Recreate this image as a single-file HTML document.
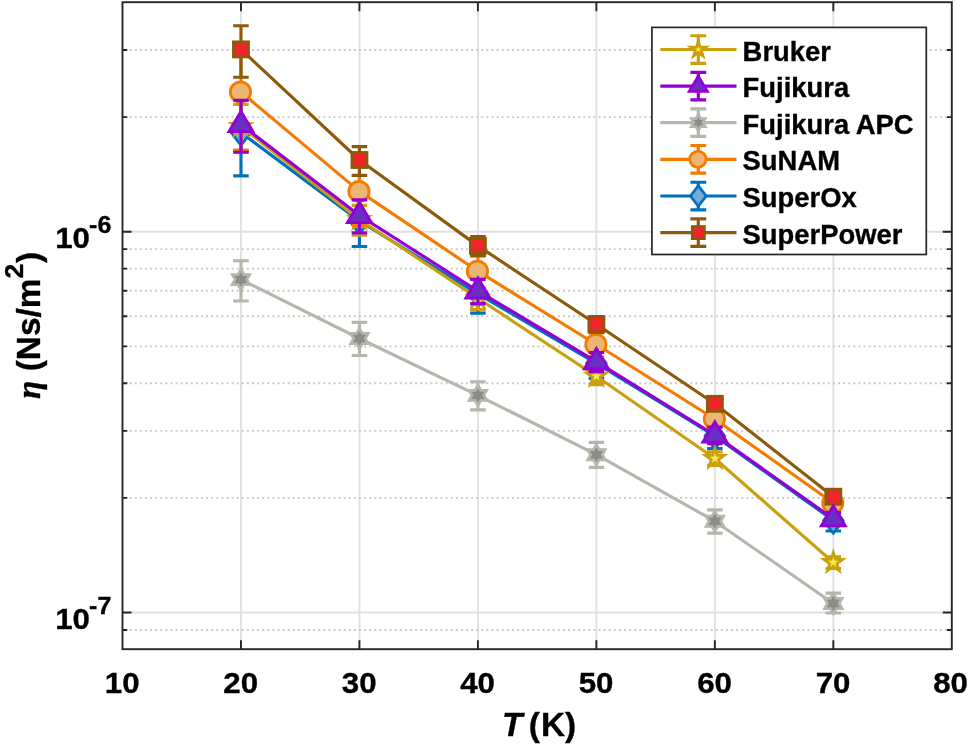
<!DOCTYPE html>
<html lang="en"><head><meta charset="utf-8"><title>Viscosity vs temperature</title>
<style>html,body{margin:0;padding:0;background:#fff}svg{display:block}</style></head>
<body>
<svg width="969" height="745" viewBox="0 0 969 745">
<rect width="969" height="745" fill="#fff"/>
<path d="M240.97 2.2V649.2M359.44 2.2V649.2M477.91 2.2V649.2M596.39 2.2V649.2M714.86 2.2V649.2M833.33 2.2V649.2M122.5 231.73H951.8M122.5 612.54H951.8" stroke="#E0E0E0" stroke-width="1.9" fill="none"/>
<path d="M122.5 629.97H951.8M122.5 497.91H951.8M122.5 430.85H951.8M122.5 383.27H951.8M122.5 346.36H951.8M122.5 316.21H951.8M122.5 290.72H951.8M122.5 268.63H951.8M122.5 249.15H951.8M122.5 117.09H951.8M122.5 50.03H951.8" stroke="#C7C7C7" stroke-width="1.9" stroke-dasharray="1.9 3.196" stroke-dashoffset="2.95" fill="none"/>
<g stroke-linecap="butt">
<g>
<polyline points="240.97,132.5 359.44,221 477.91,293.8 596.39,363.3 714.86,436 833.33,520.4" fill="none" stroke="#0072BD" stroke-width="3.15" stroke-linejoin="round"/>
<path d="M240.97 98.5V175.9M233.22 98.5H248.72M233.22 175.9H248.72" stroke="#0072BD" stroke-width="3.15" fill="none"/>
<path d="M359.44 198.9V246.5M351.69 198.9H367.19M351.69 246.5H367.19" stroke="#0072BD" stroke-width="3.15" fill="none"/>
<path d="M477.91 276V313.1M470.16 276H485.66M470.16 313.1H485.66" stroke="#0072BD" stroke-width="3.15" fill="none"/>
<path d="M596.39 349.8V378.4M588.64 349.8H604.14M588.64 378.4H604.14" stroke="#0072BD" stroke-width="3.15" fill="none"/>
<path d="M714.86 426.2V448.5M707.11 426.2H722.61M707.11 448.5H722.61" stroke="#0072BD" stroke-width="3.15" fill="none"/>
<path d="M833.33 513.4V531M825.58 513.4H841.08M825.58 531H841.08" stroke="#0072BD" stroke-width="3.15" fill="none"/>
<polygon points="240.97,119.6 250.77,132.5 240.97,145.4 231.17,132.5" fill="#7BA7D9" stroke="#0072BD" stroke-width="2.75" stroke-linejoin="miter"/>
<polygon points="359.44,208.1 369.24,221 359.44,233.9 349.64,221" fill="#7BA7D9" stroke="#0072BD" stroke-width="2.75" stroke-linejoin="miter"/>
<polygon points="477.91,280.9 487.71,293.8 477.91,306.7 468.11,293.8" fill="#7BA7D9" stroke="#0072BD" stroke-width="2.75" stroke-linejoin="miter"/>
<polygon points="596.39,350.4 606.19,363.3 596.39,376.2 586.59,363.3" fill="#7BA7D9" stroke="#0072BD" stroke-width="2.75" stroke-linejoin="miter"/>
<polygon points="714.86,423.1 724.66,436 714.86,448.9 705.06,436" fill="#7BA7D9" stroke="#0072BD" stroke-width="2.75" stroke-linejoin="miter"/>
<polygon points="833.33,507.5 843.13,520.4 833.33,533.3 823.53,520.4" fill="#7BA7D9" stroke="#0072BD" stroke-width="2.75" stroke-linejoin="miter"/>
</g>
<g>
<polyline points="240.97,126.4 359.44,219.5 477.91,298.3 596.39,376.2 714.86,458.5 833.33,562.5" fill="none" stroke="#C9A00E" stroke-width="3.15" stroke-linejoin="round"/>
<path d="M240.97 104.5V151.7M233.22 104.5H248.72M233.22 151.7H248.72" stroke="#C9A00E" stroke-width="3.15" fill="none"/>
<path d="M359.44 205.4V235.2M351.69 205.4H367.19M351.69 235.2H367.19" stroke="#C9A00E" stroke-width="3.15" fill="none"/>
<path d="M477.91 287.7V309.6M470.16 287.7H485.66M470.16 309.6H485.66" stroke="#C9A00E" stroke-width="3.15" fill="none"/>
<path d="M596.39 368V384.6M588.64 368H604.14M588.64 384.6H604.14" stroke="#C9A00E" stroke-width="3.15" fill="none"/>
<path d="M714.86 451.9V465.4M707.11 451.9H722.61M707.11 465.4H722.61" stroke="#C9A00E" stroke-width="3.15" fill="none"/>
<path d="M833.33 556.7V568.5M825.58 556.7H841.08M825.58 568.5H841.08" stroke="#C9A00E" stroke-width="3.15" fill="none"/>
<polygon points="240.97,116.4 243.22,123.31 250.48,123.31 244.6,127.58 246.85,134.49 240.97,130.22 235.09,134.49 237.34,127.58 231.46,123.31 238.73,123.31" fill="#F8EA4E" stroke="#C9A00E" stroke-width="2.75" stroke-linejoin="miter"/>
<polygon points="359.44,209.5 361.69,216.41 368.95,216.41 363.08,220.68 365.32,227.59 359.44,223.32 353.57,227.59 355.81,220.68 349.93,216.41 357.2,216.41" fill="#F8EA4E" stroke="#C9A00E" stroke-width="2.75" stroke-linejoin="miter"/>
<polygon points="477.91,288.3 480.16,295.21 487.42,295.21 481.55,299.48 483.79,306.39 477.91,302.12 472.04,306.39 474.28,299.48 468.4,295.21 475.67,295.21" fill="#F8EA4E" stroke="#C9A00E" stroke-width="2.75" stroke-linejoin="miter"/>
<polygon points="596.39,366.2 598.63,373.11 605.9,373.11 600.02,377.38 602.26,384.29 596.39,380.02 590.51,384.29 592.75,377.38 586.88,373.11 594.14,373.11" fill="#F8EA4E" stroke="#C9A00E" stroke-width="2.75" stroke-linejoin="miter"/>
<polygon points="714.86,448.5 717.1,455.41 724.37,455.41 718.49,459.68 720.73,466.59 714.86,462.32 708.98,466.59 711.22,459.68 705.35,455.41 712.61,455.41" fill="#F8EA4E" stroke="#C9A00E" stroke-width="2.75" stroke-linejoin="miter"/>
<polygon points="833.33,552.5 835.57,559.41 842.84,559.41 836.96,563.68 839.21,570.59 833.33,566.32 827.45,570.59 829.7,563.68 823.82,559.41 831.08,559.41" fill="#F8EA4E" stroke="#C9A00E" stroke-width="2.75" stroke-linejoin="miter"/>
</g>
<g>
<polyline points="240.97,92 359.44,191.4 477.91,271.2 596.39,344.5 714.86,419 833.33,503" fill="none" stroke="#F57A00" stroke-width="3.15" stroke-linejoin="round"/>
<path d="M240.97 48.7V150.1M233.22 48.7H248.72M233.22 150.1H248.72" stroke="#F57A00" stroke-width="3.15" fill="none"/>
<path d="M359.44 161.8V225.5M351.69 161.8H367.19M351.69 225.5H367.19" stroke="#F57A00" stroke-width="3.15" fill="none"/>
<path d="M477.91 255.5V288.5M470.16 255.5H485.66M470.16 288.5H485.66" stroke="#F57A00" stroke-width="3.15" fill="none"/>
<path d="M596.39 333V357M588.64 333H604.14M588.64 357H604.14" stroke="#F57A00" stroke-width="3.15" fill="none"/>
<path d="M714.86 412V426.5M707.11 412H722.61M707.11 426.5H722.61" stroke="#F57A00" stroke-width="3.15" fill="none"/>
<path d="M833.33 497V509M825.58 497H841.08M825.58 509H841.08" stroke="#F57A00" stroke-width="3.15" fill="none"/>
<circle cx="240.47" cy="92" r="10.15" fill="#EBB672" stroke="#F57A00" stroke-width="2.75" stroke-linejoin="miter"/>
<circle cx="358.94" cy="191.4" r="10.15" fill="#EBB672" stroke="#F57A00" stroke-width="2.75" stroke-linejoin="miter"/>
<circle cx="477.41" cy="271.2" r="10.15" fill="#EBB672" stroke="#F57A00" stroke-width="2.75" stroke-linejoin="miter"/>
<circle cx="595.89" cy="344.5" r="10.15" fill="#EBB672" stroke="#F57A00" stroke-width="2.75" stroke-linejoin="miter"/>
<circle cx="714.36" cy="419" r="10.15" fill="#EBB672" stroke="#F57A00" stroke-width="2.75" stroke-linejoin="miter"/>
<circle cx="832.83" cy="503" r="10.15" fill="#EBB672" stroke="#F57A00" stroke-width="2.75" stroke-linejoin="miter"/>
</g>
<g>
<polyline points="240.97,49.4 359.44,160 477.91,245.9 596.39,324.2 714.86,403.8 833.33,496.7" fill="none" stroke="#8C5A0A" stroke-width="3.15" stroke-linejoin="round"/>
<path d="M240.97 25.7V77.2M233.22 25.7H248.72M233.22 77.2H248.72" stroke="#8C5A0A" stroke-width="3.15" fill="none"/>
<path d="M359.44 146.6V175.3M351.69 146.6H367.19M351.69 175.3H367.19" stroke="#8C5A0A" stroke-width="3.15" fill="none"/>
<path d="M477.91 236.6V255.9M470.16 236.6H485.66M470.16 255.9H485.66" stroke="#8C5A0A" stroke-width="3.15" fill="none"/>
<path d="M596.39 316.5V332.5M588.64 316.5H604.14M588.64 332.5H604.14" stroke="#8C5A0A" stroke-width="3.15" fill="none"/>
<path d="M714.86 397.5V410.5M707.11 397.5H722.61M707.11 410.5H722.61" stroke="#8C5A0A" stroke-width="3.15" fill="none"/>
<path d="M833.33 491V502.5M825.58 491H841.08M825.58 502.5H841.08" stroke="#8C5A0A" stroke-width="3.15" fill="none"/>
<rect x="233.42" y="41.85" width="15.1" height="15.1" fill="#EE2529" stroke="#8C5A0A" stroke-width="2.75" stroke-linejoin="miter"/>
<rect x="351.89" y="152.45" width="15.1" height="15.1" fill="#EE2529" stroke="#8C5A0A" stroke-width="2.75" stroke-linejoin="miter"/>
<rect x="470.36" y="238.35" width="15.1" height="15.1" fill="#EE2529" stroke="#8C5A0A" stroke-width="2.75" stroke-linejoin="miter"/>
<rect x="588.84" y="316.65" width="15.1" height="15.1" fill="#EE2529" stroke="#8C5A0A" stroke-width="2.75" stroke-linejoin="miter"/>
<rect x="707.31" y="396.25" width="15.1" height="15.1" fill="#EE2529" stroke="#8C5A0A" stroke-width="2.75" stroke-linejoin="miter"/>
<rect x="825.78" y="489.15" width="15.1" height="15.1" fill="#EE2529" stroke="#8C5A0A" stroke-width="2.75" stroke-linejoin="miter"/>
</g>
<g>
<polyline points="240.97,279.6 359.44,338.5 477.91,395.3 596.39,454.7 714.86,521.2 833.33,603.5" fill="none" stroke="#B4B7AC" stroke-width="3.15" stroke-linejoin="round"/>
<path d="M240.97 260.7V301M233.22 260.7H248.72M233.22 301H248.72" stroke="#B4B7AC" stroke-width="3.15" fill="none"/>
<path d="M359.44 322.3V355.5M351.69 322.3H367.19M351.69 355.5H367.19" stroke="#B4B7AC" stroke-width="3.15" fill="none"/>
<path d="M477.91 381.7V409.8M470.16 381.7H485.66M470.16 409.8H485.66" stroke="#B4B7AC" stroke-width="3.15" fill="none"/>
<path d="M596.39 442.3V467.4M588.64 442.3H604.14M588.64 467.4H604.14" stroke="#B4B7AC" stroke-width="3.15" fill="none"/>
<path d="M714.86 509.9V533.1M707.11 509.9H722.61M707.11 533.1H722.61" stroke="#B4B7AC" stroke-width="3.15" fill="none"/>
<path d="M833.33 593.1V613M825.58 593.1H841.08M825.58 613H841.08" stroke="#B4B7AC" stroke-width="3.15" fill="none"/>
<polygon points="240.97,269.5 243.89,274.55 249.72,274.55 246.8,279.6 249.72,284.65 243.89,284.65 240.97,289.7 238.06,284.65 232.22,284.65 235.14,279.6 232.22,274.55 238.06,274.55" fill="#8B8E87" stroke="#B4B7AC" stroke-width="2.75" stroke-linejoin="miter"/>
<polygon points="359.44,328.4 362.36,333.45 368.19,333.45 365.27,338.5 368.19,343.55 362.36,343.55 359.44,348.6 356.53,343.55 350.7,343.55 353.61,338.5 350.7,333.45 356.53,333.45" fill="#8B8E87" stroke="#B4B7AC" stroke-width="2.75" stroke-linejoin="miter"/>
<polygon points="477.91,385.2 480.83,390.25 486.66,390.25 483.75,395.3 486.66,400.35 480.83,400.35 477.91,405.4 475,400.35 469.17,400.35 472.08,395.3 469.17,390.25 475,390.25" fill="#8B8E87" stroke="#B4B7AC" stroke-width="2.75" stroke-linejoin="miter"/>
<polygon points="596.39,444.6 599.3,449.65 605.13,449.65 602.22,454.7 605.13,459.75 599.3,459.75 596.39,464.8 593.47,459.75 587.64,459.75 590.55,454.7 587.64,449.65 593.47,449.65" fill="#8B8E87" stroke="#B4B7AC" stroke-width="2.75" stroke-linejoin="miter"/>
<polygon points="714.86,511.1 717.77,516.15 723.6,516.15 720.69,521.2 723.6,526.25 717.77,526.25 714.86,531.3 711.94,526.25 706.11,526.25 709.03,521.2 706.11,516.15 711.94,516.15" fill="#8B8E87" stroke="#B4B7AC" stroke-width="2.75" stroke-linejoin="miter"/>
<polygon points="833.33,593.4 836.24,598.45 842.08,598.45 839.16,603.5 842.08,608.55 836.24,608.55 833.33,613.6 830.41,608.55 824.58,608.55 827.5,603.5 824.58,598.45 830.41,598.45" fill="#8B8E87" stroke="#B4B7AC" stroke-width="2.75" stroke-linejoin="miter"/>
</g>
<g>
<polyline points="240.97,124.5 359.44,215.5 477.91,291 596.39,361.7 714.86,435 833.33,518.8" fill="none" stroke="#9400D3" stroke-width="3.15" stroke-linejoin="round"/>
<path d="M240.97 100.4V152.2M233.22 100.4H248.72M233.22 152.2H248.72" stroke="#9400D3" stroke-width="3.15" fill="none"/>
<path d="M359.44 199.8V232.8M351.69 199.8H367.19M351.69 232.8H367.19" stroke="#9400D3" stroke-width="3.15" fill="none"/>
<path d="M477.91 279.3V303.6M470.16 279.3H485.66M470.16 303.6H485.66" stroke="#9400D3" stroke-width="3.15" fill="none"/>
<path d="M596.39 352.5V371.6M588.64 352.5H604.14M588.64 371.6H604.14" stroke="#9400D3" stroke-width="3.15" fill="none"/>
<path d="M714.86 427.1V443.6M707.11 427.1H722.61M707.11 443.6H722.61" stroke="#9400D3" stroke-width="3.15" fill="none"/>
<path d="M833.33 512.5V525.5M825.58 512.5H841.08M825.58 525.5H841.08" stroke="#9400D3" stroke-width="3.15" fill="none"/>
<polygon points="240.97,111.3 253.07,131.6 228.87,131.6" fill="#6A2EC2" stroke="#9400D3" stroke-width="2.75" stroke-linejoin="miter"/>
<polygon points="359.44,202.3 371.54,222.6 347.34,222.6" fill="#6A2EC2" stroke="#9400D3" stroke-width="2.75" stroke-linejoin="miter"/>
<polygon points="477.91,277.8 490.01,298.1 465.81,298.1" fill="#6A2EC2" stroke="#9400D3" stroke-width="2.75" stroke-linejoin="miter"/>
<polygon points="596.39,348.5 608.49,368.8 584.29,368.8" fill="#6A2EC2" stroke="#9400D3" stroke-width="2.75" stroke-linejoin="miter"/>
<polygon points="714.86,421.8 726.96,442.1 702.76,442.1" fill="#6A2EC2" stroke="#9400D3" stroke-width="2.75" stroke-linejoin="miter"/>
<polygon points="833.33,505.6 845.43,525.9 821.23,525.9" fill="#6A2EC2" stroke="#9400D3" stroke-width="2.75" stroke-linejoin="miter"/>
</g>
</g>
<rect x="122.5" y="2.2" width="829.3" height="647" fill="none" stroke="#262626" stroke-width="1.9"/>
<path d="M240.97 649.2v-9M240.97 2.2v9M359.44 649.2v-9M359.44 2.2v9M477.91 649.2v-9M477.91 2.2v9M596.39 649.2v-9M596.39 2.2v9M714.86 649.2v-9M714.86 2.2v9M833.33 649.2v-9M833.33 2.2v9M122.5 231.73h9M951.8 231.73h-9M122.5 612.54h9M951.8 612.54h-9M122.5 629.97h4.8M951.8 629.97h-4.8M122.5 497.91h4.8M951.8 497.91h-4.8M122.5 430.85h4.8M951.8 430.85h-4.8M122.5 383.27h4.8M951.8 383.27h-4.8M122.5 346.36h4.8M951.8 346.36h-4.8M122.5 316.21h4.8M951.8 316.21h-4.8M122.5 290.72h4.8M951.8 290.72h-4.8M122.5 268.63h4.8M951.8 268.63h-4.8M122.5 249.15h4.8M951.8 249.15h-4.8M122.5 117.09h4.8M951.8 117.09h-4.8M122.5 50.03h4.8M951.8 50.03h-4.8" stroke="#262626" stroke-width="1.9" fill="none"/>
<g font-family="'Liberation Sans', sans-serif" font-weight="bold" fill="#000" stroke="#000" stroke-width="0.35">
<text x="122.2" y="692.7" font-size="30.2" text-anchor="middle" textLength="34.76" lengthAdjust="spacingAndGlyphs">10</text>
<text x="240.67" y="692.7" font-size="30.2" text-anchor="middle" textLength="34.76" lengthAdjust="spacingAndGlyphs">20</text>
<text x="359.14" y="692.7" font-size="30.2" text-anchor="middle" textLength="34.76" lengthAdjust="spacingAndGlyphs">30</text>
<text x="477.61" y="692.7" font-size="30.2" text-anchor="middle" textLength="34.76" lengthAdjust="spacingAndGlyphs">40</text>
<text x="596.09" y="692.7" font-size="30.2" text-anchor="middle" textLength="34.76" lengthAdjust="spacingAndGlyphs">50</text>
<text x="714.56" y="692.7" font-size="30.2" text-anchor="middle" textLength="34.76" lengthAdjust="spacingAndGlyphs">60</text>
<text x="833.03" y="692.7" font-size="30.2" text-anchor="middle" textLength="34.76" lengthAdjust="spacingAndGlyphs">70</text>
<text x="950.6" y="692.7" font-size="30.2" text-anchor="middle" textLength="34.76" lengthAdjust="spacingAndGlyphs">80</text>
<text x="55.2" y="247.9" font-size="30.2" textLength="34.76" lengthAdjust="spacingAndGlyphs">10</text>
<text x="89.1" y="232.8" font-size="24.16" textLength="22.23" lengthAdjust="spacingAndGlyphs">-6</text>
<text x="55.2" y="628.9" font-size="30.2" textLength="34.76" lengthAdjust="spacingAndGlyphs">10</text>
<text x="89.1" y="613.8" font-size="24.16" textLength="22.23" lengthAdjust="spacingAndGlyphs">-7</text>
<text x="502" y="736.4" font-size="33.4"><tspan font-style="italic">T</tspan><tspan dx="-2.9"> (</tspan><tspan dx="1">K)</tspan></text>
<text transform="translate(40.3 398.9) rotate(-90)" font-size="33.4"><tspan font-family="'Liberation Serif', serif" font-style="italic" font-weight="bold">η</tspan> (Ns/m<tspan font-size="26.6" dy="-17.5">2</tspan><tspan dy="17.5" dx="0.8">)</tspan></text>
</g>
<rect x="651.9" y="27.4" width="274.4" height="227.1" fill="#fff" stroke="#262626" stroke-width="1.7"/>
<g font-family="'Liberation Sans', sans-serif" font-weight="bold" fill="#000" font-size="28.2">
<path d="M660.3 49.5H736.5" stroke="#C9A00E" stroke-width="3.15" fill="none"/>
<path d="M698.3 35.7V63.3M690.4 35.7H706.2M690.4 63.3H706.2" stroke="#C9A00E" stroke-width="3.15" fill="none"/>
<polygon points="698.3,41.5 700.1,47.03 705.91,47.03 701.21,50.44 703,55.97 698.3,52.56 693.6,55.97 695.39,50.44 690.69,47.03 696.5,47.03" fill="#F8EA4E" stroke="#C9A00E" stroke-width="2.75" stroke-linejoin="miter"/>
<text x="742.6" y="60.6" stroke="#000" stroke-width="0.35" transform="translate(742.6 0) scale(0.972 1) translate(-742.6 0)">Bruker</text>
<path d="M660.3 86.1H736.5" stroke="#9400D3" stroke-width="3.15" fill="none"/>
<path d="M698.3 72.3V99.9M690.4 72.3H706.2M690.4 99.9H706.2" stroke="#9400D3" stroke-width="3.15" fill="none"/>
<polygon points="698.3,76.2 707.38,91.42 689.22,91.42" fill="#6A2EC2" stroke="#9400D3" stroke-width="2.75" stroke-linejoin="miter"/>
<text x="742.6" y="97.2" stroke="#000" stroke-width="0.35" transform="translate(742.6 0) scale(0.972 1) translate(-742.6 0)">Fujikura</text>
<path d="M660.3 122.6H736.5" stroke="#B4B7AC" stroke-width="3.15" fill="none"/>
<path d="M698.3 108.8V136.4M690.4 108.8H706.2M690.4 136.4H706.2" stroke="#B4B7AC" stroke-width="3.15" fill="none"/>
<polygon points="698.3,114.52 700.63,118.56 705.3,118.56 702.96,122.6 705.3,126.64 700.63,126.64 698.3,130.68 695.97,126.64 691.3,126.64 693.64,122.6 691.3,118.56 695.97,118.56" fill="#8B8E87" stroke="#B4B7AC" stroke-width="2.75" stroke-linejoin="miter"/>
<text x="742.6" y="133.7" stroke="#000" stroke-width="0.35" transform="translate(742.6 0) scale(0.972 1) translate(-742.6 0)">Fujikura APC</text>
<path d="M660.3 159.3H736.5" stroke="#F57A00" stroke-width="3.15" fill="none"/>
<path d="M698.3 145.5V173.1M690.4 145.5H706.2M690.4 173.1H706.2" stroke="#F57A00" stroke-width="3.15" fill="none"/>
<circle cx="697.9" cy="159.3" r="8.12" fill="#EBB672" stroke="#F57A00" stroke-width="2.75" stroke-linejoin="miter"/>
<text x="742.6" y="170.4" stroke="#000" stroke-width="0.35" transform="translate(742.6 0) scale(0.972 1) translate(-742.6 0)">SuNAM</text>
<path d="M660.3 196H736.5" stroke="#0072BD" stroke-width="3.15" fill="none"/>
<path d="M698.3 182.2V209.8M690.4 182.2H706.2M690.4 209.8H706.2" stroke="#0072BD" stroke-width="3.15" fill="none"/>
<polygon points="698.3,185.68 706.14,196 698.3,206.32 690.46,196" fill="#7BA7D9" stroke="#0072BD" stroke-width="2.75" stroke-linejoin="miter"/>
<text x="742.6" y="207.1" stroke="#000" stroke-width="0.35" transform="translate(742.6 0) scale(0.972 1) translate(-742.6 0)">SuperOx</text>
<path d="M660.3 232.6H736.5" stroke="#8C5A0A" stroke-width="3.15" fill="none"/>
<path d="M698.3 218.8V246.4M690.4 218.8H706.2M690.4 246.4H706.2" stroke="#8C5A0A" stroke-width="3.15" fill="none"/>
<rect x="692.26" y="226.56" width="12.08" height="12.08" fill="#EE2529" stroke="#8C5A0A" stroke-width="2.75" stroke-linejoin="miter"/>
<text x="742.6" y="243.7" stroke="#000" stroke-width="0.35" transform="translate(742.6 0) scale(0.972 1) translate(-742.6 0)">SuperPower</text>
</g>
</svg>
</body></html>
